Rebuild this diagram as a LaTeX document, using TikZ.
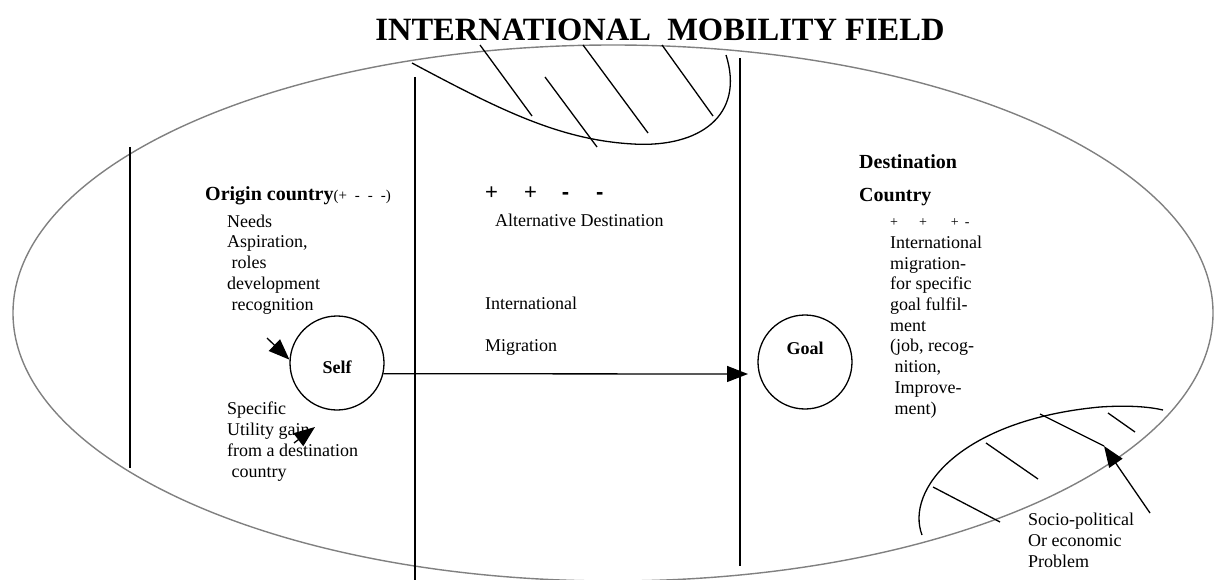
\documentclass[tikz,border=0pt]{standalone}
\usepackage{fontspec}
\setmainfont{Liberation Serif}
\newfontfamily\signfont{Liberation Sans}
\usetikzlibrary{arrows.meta}
\definecolor{fieldgray}{RGB}{128,128,128}

\begin{document}
\begin{tikzpicture}[x=1pt, y=-1pt, body/.style={anchor=base west, inner sep=0pt, align=left, font=\fontsize{18}{20.7}\selectfont}, head/.style={anchor=base west, inner sep=0pt, align=left, font=\fontsize{20}{24}\selectfont\bfseries}, actor/.style={draw, circle, line width=1.3pt, minimum size=94pt, inner sep=0pt}, arrow/.style={-{Triangle[length=21pt,width=16pt]}, line width=1.3pt}, hatch/.style={line width=1.3pt}, divider/.style={line width=1.7pt}]
\useasboundingbox (0,0) rectangle (1218,580);
\node[anchor=base, inner sep=0pt, font=\fontsize{32.5}{36}\selectfont\bfseries] (title) at (660,41) {INTERNATIONAL\ \ MOBILITY FIELD};
% the field and its three zones
\draw[fieldgray, line width=1.4pt] (613,313) ellipse [x radius=600pt, y radius=268pt];
\draw[divider] (130,147) -- (130,468);
\draw[divider] (415,77) -- (415,580);
\draw[divider] (740,58) -- (740,566);
% hatched barriers
\draw[hatch] (412,63) .. controls (500,110) and (560,140) .. (633,144) .. controls (700,148) and (745,115) .. (726,55);
\draw[hatch] (480,45) -- (532,116);
\draw[hatch] (545,77) -- (597,147);
\draw[hatch] (583,45) -- (648,133);
\draw[hatch] (662,45) -- (713,116);
\draw[hatch] (922,535) .. controls (905,490) and (960,420) .. (1100,407) .. controls (1130,405) and (1150,407) .. (1163,410);
\draw[hatch] (1108,413) -- (1135,432);
\draw[hatch] (986,443) -- (1038,479);
\draw[hatch] (933,487) -- (1000,522);
% origin (base = last line)
\node[head] (origin) at (205,201) {Origin country{\mdseries\fontsize{15}{16}\selectfont(+\hspace{8pt}-\hspace{8pt}-\hspace{8pt}-)}};
\node[body] (needs) at (227,310) {Needs\\Aspiration,\\\ roles\\development\\\ recognition};
\node[actor] (self) at (337,363) {};
\node[font=\fontsize{18}{20}\selectfont\bfseries] (self text) at (337,367) {Self};
\node[body] (utility) at (227,477) {Specific\\Utility gain\\from a destination\\\ country};
% alternatives
\node[anchor=base west, inner sep=0pt, font=\fontsize{22}{24}\selectfont\signfont] (signs) at (485,200) {+\hspace{26pt}+\hspace{25pt}{\bfseries -}\hspace{27pt}{\bfseries -}};
\node[body] (alt) at (495,226) {Alternative Destination};
\node[body] (intl) at (485,309) {International};
\node[body] (migr) at (485,351) {Migration};
% destination
\node[head, font=\fontsize{20}{33}\selectfont\bfseries] (dest) at (859,202) {Destination\\Country};
\node[anchor=base west, inner sep=0pt, font=\fontsize{14}{16}\selectfont] (dest signs) at (890,226) {+\hspace{21pt}+\hspace{24pt}+\hspace{6pt}-};
\node[body] (fulfil) at (890,414) {International\\migration-\\for specific\\goal fulfil-\\ment\\(job, recog-\\\ nition,\\\ Improve-\\\ ment)};
\node[actor] (goal) at (805,362) {};
\node[font=\fontsize{18}{20}\selectfont\bfseries] (goal text) at (805,348) {Goal};
\node[body] (problem) at (1028,567) {Socio-political\\Or economic\\Problem};
% arrows
\coordinate (needs in) at (267,338);
\coordinate (gain from) at (294,443);
\coordinate (gain to) at (315,427);
\coordinate (mig end) at (748,374);
\coordinate (problem from) at (1150,513);
\coordinate (problem to) at (1104,446);
\draw[arrow] (needs in) -- (self.176);
\draw[arrow] (gain from) -- (gain to);
\draw[arrow] (self.-13) -- (mig end);
\draw[hatch] (1040,414) -- (problem to);
\draw[arrow] (problem from) -- (problem to);
\end{tikzpicture}
\end{document}
